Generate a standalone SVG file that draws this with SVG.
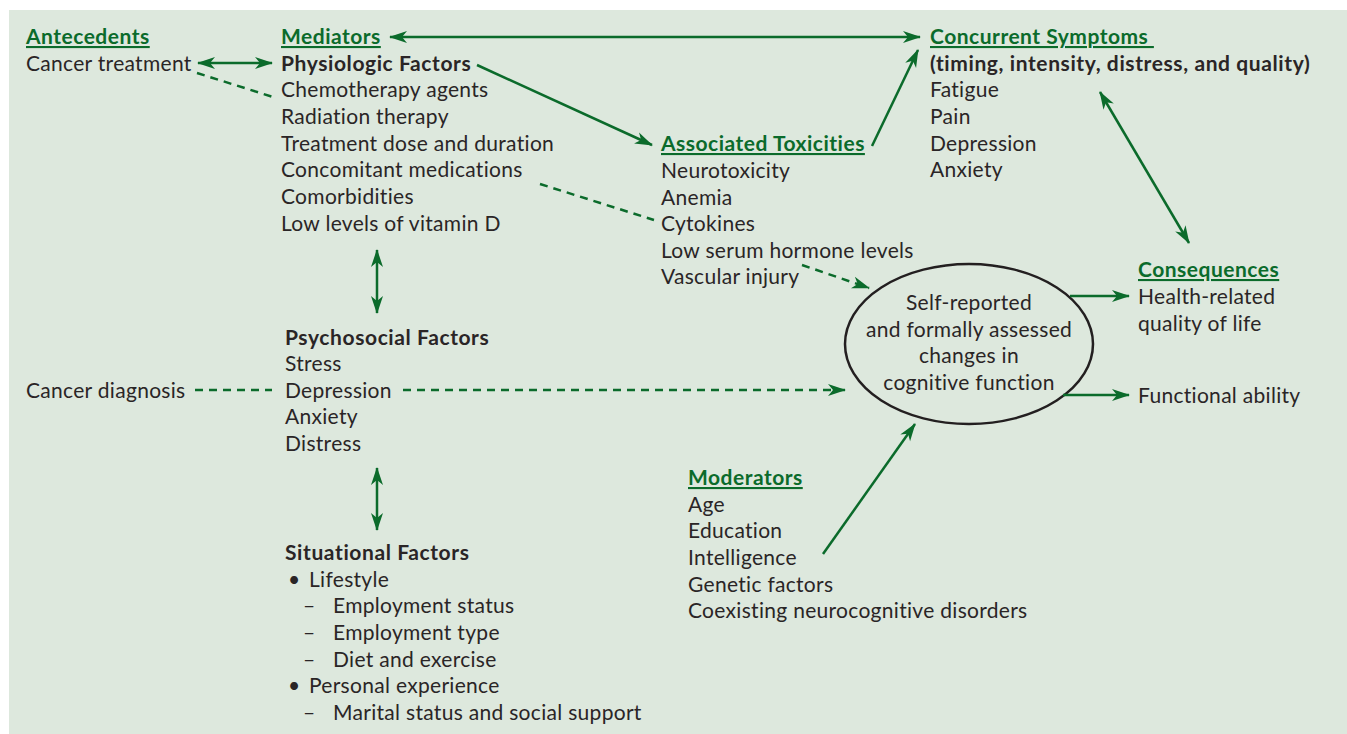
<svg xmlns="http://www.w3.org/2000/svg" width="1347" height="734" viewBox="0 0 1347 734">
<defs>
<marker id="ah" markerUnits="userSpaceOnUse" markerWidth="20" markerHeight="14" refX="17" refY="6" orient="auto-start-reverse" viewBox="0 0 20 12">
<path d="M0,0 L18,6 L0,12 L5,6 z" fill="#0b6b2b"/>
</marker>
<style>
text{font-family:Lato,"Open Sans","Liberation Sans",sans-serif;font-size:21px;letter-spacing:0.3px;fill:#2a2526}
.h{font-weight:bold;fill:#0b6b2b;text-decoration:underline;letter-spacing:0.5px}
.b{font-weight:bold;fill:#2a2526;letter-spacing:0.6px}
.c{text-anchor:middle}
.ln{stroke:#0b6b2b;stroke-width:2.5;fill:none}
.d{stroke-dasharray:8,6}
</style>
</defs>
<rect x="9" y="10" width="1338" height="724" fill="#dde8dd"/>

<g id="antecedents">
<text x="26" y="44" class="h">Antecedents</text>
<text x="26" y="71">Cancer treatment</text>
</g>

<g id="mediators">
<text x="281" y="44" class="h">Mediators</text>
<text x="281" y="71" class="b">Physiologic Factors</text>
<text x="281" y="97">Chemotherapy agents</text>
<text x="281" y="124">Radiation therapy</text>
<text x="281" y="151">Treatment dose and duration</text>
<text x="281" y="177">Concomitant medications</text>
<text x="281" y="204">Comorbidities</text>
<text x="281" y="231">Low levels of vitamin D</text>
</g>

<g id="concurrent">
<text x="930" y="44" class="h">Concurrent Symptoms&#160;</text>
<text x="930" y="71" class="b">(timing, intensity, distress, and quality)</text>
<text x="930" y="97">Fatigue</text>
<text x="930" y="124">Pain</text>
<text x="930" y="151">Depression</text>
<text x="930" y="177">Anxiety</text>
</g>

<g id="toxicities">
<text x="661" y="151" class="h">Associated Toxicities</text>
<text x="661" y="178">Neurotoxicity</text>
<text x="661" y="205">Anemia</text>
<text x="661" y="231">Cytokines</text>
<text x="661" y="258">Low serum hormone levels</text>
<text x="661" y="284">Vascular injury</text>
</g>

<g id="psychosocial">
<text x="285" y="345" class="b">Psychosocial Factors</text>
<text x="285" y="371">Stress</text>
<text x="285" y="398">Depression</text>
<text x="285" y="424">Anxiety</text>
<text x="285" y="451">Distress</text>
</g>

<g id="diagnosis">
<text x="26" y="398">Cancer diagnosis</text>
</g>

<g id="situational">
<text x="285" y="560" class="b">Situational Factors</text>
<text x="288" y="587">•</text><text x="309" y="587">Lifestyle</text>
<text x="303" y="613">–</text><text x="333" y="613">Employment status</text>
<text x="303" y="640">–</text><text x="333" y="640">Employment type</text>
<text x="303" y="667">–</text><text x="333" y="667">Diet and exercise</text>
<text x="288" y="693">•</text><text x="309" y="693">Personal experience</text>
<text x="303" y="720">–</text><text x="333" y="720">Marital status and social support</text>
</g>

<g id="moderators">
<text x="688" y="485" class="h">Moderators</text>
<text x="688" y="512">Age</text>
<text x="688" y="538">Education</text>
<text x="688" y="565">Intelligence</text>
<text x="688" y="592">Genetic factors</text>
<text x="688" y="618">Coexisting neurocognitive disorders</text>
</g>

<g id="cognitive">
<ellipse cx="969" cy="344" rx="124" ry="80" fill="none" stroke="#231f20" stroke-width="2.5"/>
<text x="969" y="310" class="c">Self-reported</text>
<text x="969" y="337" class="c">and formally assessed</text>
<text x="969" y="363" class="c">changes in</text>
<text x="969" y="390" class="c">cognitive function</text>
</g>

<g id="consequences">
<text x="1138" y="277" class="h">Consequences</text>
<text x="1138" y="304">Health-related</text>
<text x="1138" y="331">quality of life</text>
<text x="1138" y="403">Functional ability</text>
</g>

<g id="connectors">
<line class="ln" x1="198" y1="63" x2="272" y2="63" marker-start="url(#ah)" marker-end="url(#ah)"/>
<line class="ln d" x1="197" y1="73" x2="273" y2="97"/>
<line class="ln" x1="390" y1="37" x2="920" y2="37" marker-start="url(#ah)" marker-end="url(#ah)"/>
<line class="ln" x1="477" y1="65" x2="652" y2="145" marker-end="url(#ah)"/>
<line class="ln" x1="872" y1="146" x2="918" y2="50" marker-end="url(#ah)"/>
<line class="ln d" x1="540" y1="184" x2="654" y2="220"/>
<line class="ln d" x1="802" y1="265" x2="869" y2="288" marker-end="url(#ah)"/>
<line class="ln" x1="1100" y1="92" x2="1189" y2="243" marker-start="url(#ah)" marker-end="url(#ah)"/>
<line class="ln" x1="1070" y1="296" x2="1129" y2="296" marker-end="url(#ah)"/>
<line class="ln" x1="1063" y1="395" x2="1129" y2="395" marker-end="url(#ah)"/>
<line class="ln" x1="823" y1="554" x2="915" y2="424" marker-end="url(#ah)"/>
<line class="ln d" x1="195" y1="390" x2="272" y2="390"/>
<line class="ln d" x1="403" y1="390" x2="845" y2="390" marker-end="url(#ah)"/>
<line class="ln" x1="377" y1="250" x2="377" y2="313" marker-start="url(#ah)" marker-end="url(#ah)"/>
<line class="ln" x1="377" y1="468" x2="377" y2="530" marker-start="url(#ah)" marker-end="url(#ah)"/>
</g>
</svg>
